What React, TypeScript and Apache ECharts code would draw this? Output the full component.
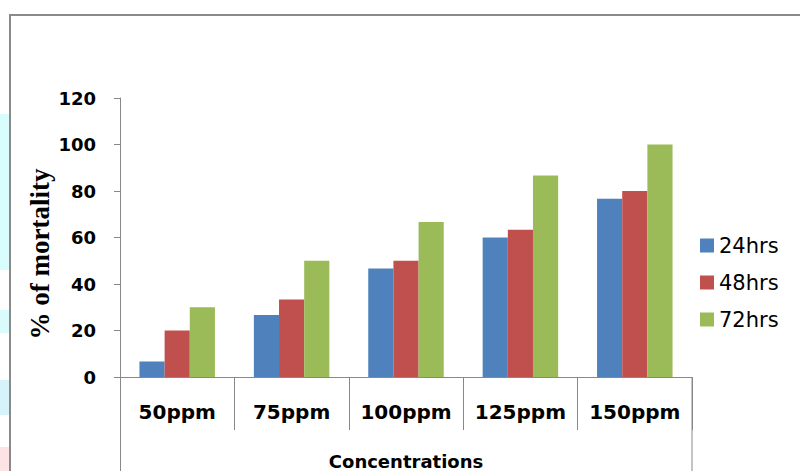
import React, { useEffect, useRef } from "react";
import * as echarts from "echarts";

const categories = ["50ppm", "75ppm", "100ppm", "125ppm", "150ppm"];
const seriesNames = ["24hrs", "48hrs", "72hrs"];
const hrs24 = [6.67, 26.67, 46.67, 60, 76.67];
const hrs48 = [20, 33.33, 50, 63.33, 80];
const hrs72 = [30, 50, 66.67, 86.67, 100];
const colors = ["#4f81bd", "#c0504d", "#9bbb59"];
const yTicks = { min: 0, max: 120, interval: 20 };
const yTitle = "% of mortality";
const xTitle = "Concentrations";

export default function App() {
  const ref = useRef<HTMLDivElement>(null);
  useEffect(() => {
    if (!ref.current) return;
    const chart = echarts.init(ref.current, undefined, { renderer: "svg" });
    const axisColor = "#888888";
    const values = [hrs24, hrs48, hrs72];
    chart.setOption({
      animation: false,
      backgroundColor: "#ffffff",
      grid: { left: 120, right: 108, top: 98, bottom: 94, outerBoundsMode: "none", containLabel: false },
      legend: {
        orient: "vertical",
        left: 695,
        top: 230,
        itemWidth: 14,
        itemHeight: 14,
        itemGap: 16,
        icon: "rect",
        data: seriesNames,
        textStyle: { fontFamily: "DejaVu Sans", fontSize: 21, color: "#000" },
      },
      xAxis: {
        type: "category",
        data: categories,
        name: xTitle,
        nameLocation: "middle",
        nameGap: 74,
        nameTextStyle: { fontFamily: "DejaVu Sans", fontWeight: "bold", fontSize: 18, color: "#000", lineHeight: 20 },
        axisLine: { lineStyle: { color: axisColor, width: 1 } },
        axisTick: { show: true, length: 53, interval: 0, lineStyle: { color: axisColor } },
        axisLabel: { interval: 0, margin: 25, fontFamily: "DejaVu Sans", fontWeight: "bold", fontSize: 20, color: "#000" },
      },
      yAxis: {
        type: "value",
        min: yTicks.min,
        max: yTicks.max,
        interval: yTicks.interval,
        axisLine: { show: true, lineStyle: { color: axisColor, width: 1 } },
        axisTick: { show: true, length: 6, lineStyle: { color: axisColor } },
        splitLine: { show: false },
        axisLabel: { margin: 24, fontFamily: "DejaVu Sans", fontWeight: "bold", fontSize: 18, color: "#000" },
      },
      series: seriesNames.map((name, i) => ({
        name,
        type: "bar",
        data: values[i],
        barGap: "0%",
        barCategoryGap: "34%",
        itemStyle: { color: colors[i] },
      })),
      graphic: [
        { type: "rect", shape: { x: 10, y: 15, width: 800, height: 500 }, style: { fill: "none", stroke: "#8a8a8a", lineWidth: 2 }, silent: true },
        { type: "rect", shape: { x: 0, y: 114, width: 9, height: 156 }, style: { fill: "#d9fcfd" }, silent: true },
        { type: "rect", shape: { x: 0, y: 310, width: 9, height: 23 }, style: { fill: "#d9fbfc" }, silent: true },
        { type: "rect", shape: { x: 0, y: 380, width: 9, height: 35 }, style: { fill: "#d6f3fa" }, silent: true },
        { type: "rect", shape: { x: 0, y: 447, width: 9, height: 24 }, style: { fill: "#fde3e3" }, silent: true },
        { type: "line", shape: { x1: 120.5, y1: 377, x2: 120.5, y2: 471 }, style: { stroke: axisColor, lineWidth: 1 }, silent: true },
        { type: "line", shape: { x1: 692, y1: 377, x2: 692, y2: 471 }, style: { stroke: axisColor, lineWidth: 1 }, silent: true },
        {
          type: "text",
          x: 40,
          y: 254,
          rotation: Math.PI / 2,
          style: {
            text: yTitle,
            fontFamily: "Liberation Serif",
            fontWeight: "bold",
            fontSize: 27,
            fill: "#000",
            textAlign: "center",
            textVerticalAlign: "middle",
          },
          silent: true,
        },
      ],
    });
    return () => chart.dispose();
  }, []);
  return (
    <div
      ref={ref}
      style={{ position: "fixed", left: 0, top: 0, width: 800, height: 471 }}
    />
  );
}
